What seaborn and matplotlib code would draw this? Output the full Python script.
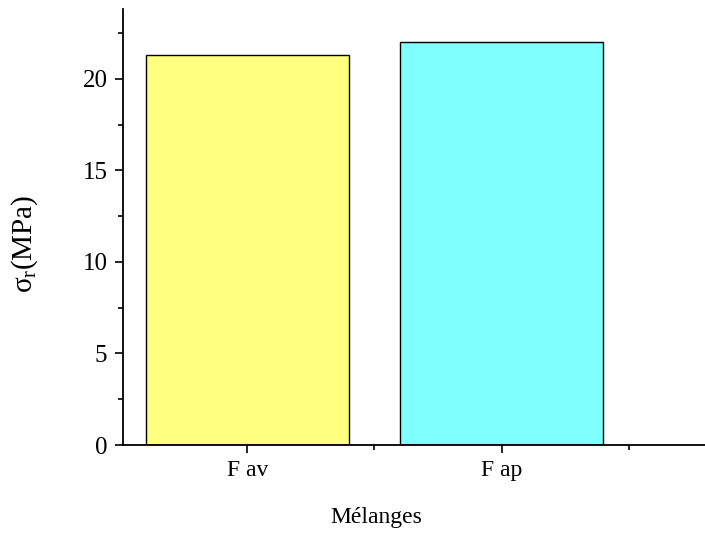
import matplotlib
matplotlib.use("Agg")
import matplotlib.pyplot as plt
from matplotlib.ticker import MultipleLocator, FixedLocator
import seaborn as sns
import pandas as pd

# Flexural strength of the two mixes
categories = ["F av", "F ap"]
strength = [21.3, 22.0]
bar_colors = ["#FFFF80", "#80FFFF"]

sns.set_theme(style="ticks")
plt.rcParams["font.family"] = ["Liberation Serif", "DejaVu Serif"]
plt.rcParams["mathtext.fontset"] = "custom"
plt.rcParams["mathtext.rm"] = "Liberation Serif"
plt.rcParams["mathtext.it"] = "Liberation Serif"

df = pd.DataFrame({"Mélanges": categories, "sigma": strength})

fig = plt.figure(figsize=(7.05, 5.38), dpi=100)
ax = fig.add_axes([122.7 / 705, (538 - 445) / 538, 1 - 122.7 / 705, (445 - 9.3) / 538])

sns.barplot(data=df, x="Mélanges", y="sigma", hue="Mélanges", palette=bar_colors,
            saturation=1, width=0.8, edgecolor="black", linewidth=1.0,
            legend=False, ax=ax)

ax.set_xlim(-0.49, 1.8)
ax.set_ylim(0, 23.8)

ax.yaxis.set_major_locator(MultipleLocator(5))
ax.yaxis.set_minor_locator(MultipleLocator(2.5))
ax.xaxis.set_minor_locator(FixedLocator([0.5, 1.5]))

ax.tick_params(axis="both", which="major", direction="out", length=6, width=1.2,
               color="black", labelcolor="black")
ax.tick_params(axis="both", which="minor", direction="out", length=3.5, width=1.2,
               color="black")
ax.tick_params(axis="y", which="major", pad=5, labelsize=18)
ax.tick_params(axis="x", which="major", pad=5, labelsize=17)

for side in ("top", "right"):
    ax.spines[side].set_visible(False)
for side in ("left", "bottom"):
    ax.spines[side].set_color("black")
    ax.spines[side].set_linewidth(1.3)

ax.set_xlabel("Mélanges", fontsize=17, color="black")
ax.set_ylabel(r"$\sigma_\mathrm{r}$(MPa)", fontsize=21, color="black")
ax.xaxis.set_label_coords(0.4348, -0.1675)
ax.xaxis.label.set_va("center")
ax.yaxis.set_label_coords((25 - 122.7) / 582.3, (445 - 243.5) / 435.7)
ax.yaxis.label.set_va("center")

fig.savefig("out.png", dpi=100)
